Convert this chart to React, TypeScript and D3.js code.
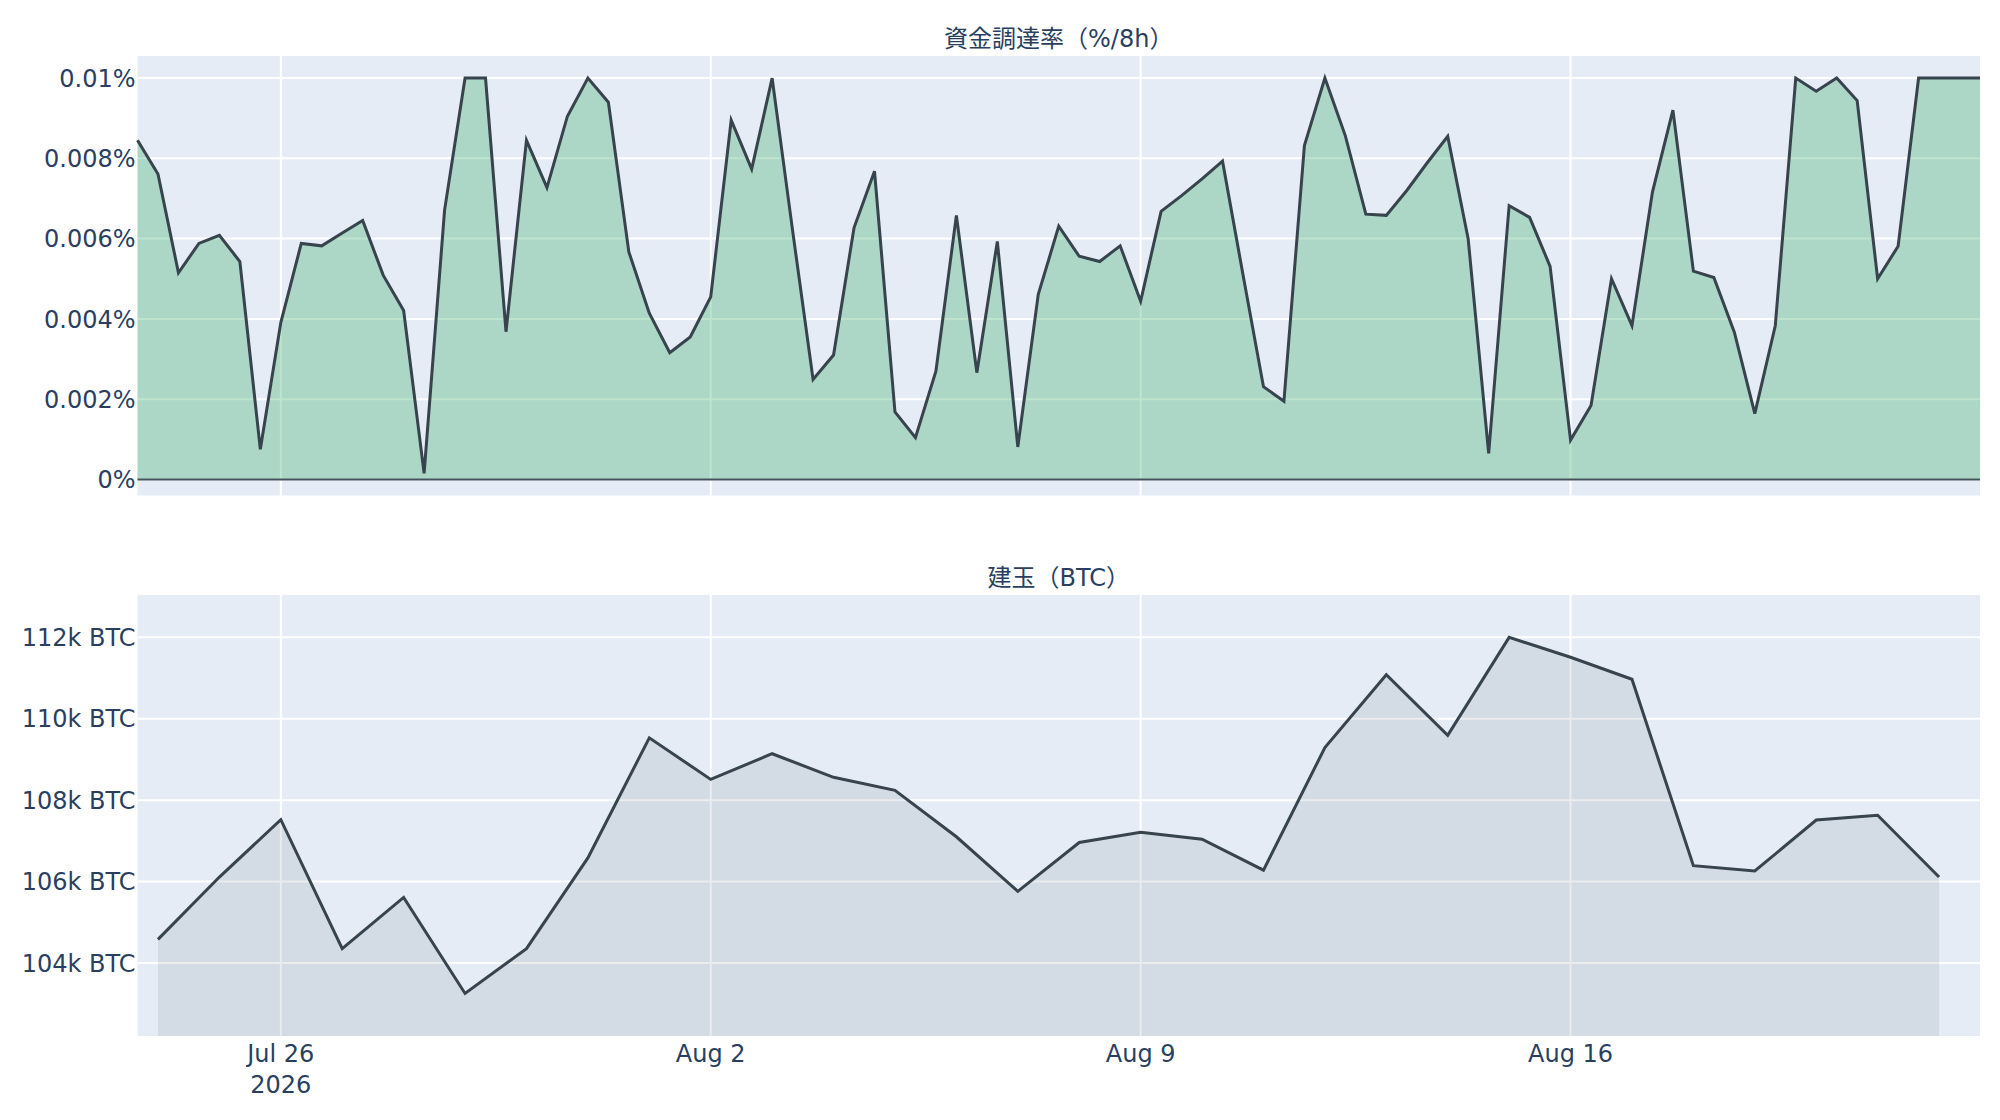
import React from 'react';
import * as d3 from 'd3';

// funding rate, % per 8h, every 8 hours from Jul 23 16:00 UTC
const fundingStart = Date.UTC(2026, 6, 23, 16);
const fundingRates = [
  0.00845, 0.00761, 0.00515, 0.00588, 0.00608, 0.00543, 0.00075, 0.00391, 0.00588, 0.00582,
  0.00614, 0.00645, 0.00509, 0.00421, 0.00015, 0.00671, 0.01, 0.01, 0.00368, 0.00845,
  0.00727, 0.00905, 0.01, 0.0094, 0.00567, 0.00414, 0.00316, 0.00355, 0.00455, 0.00895,
  0.00773, 0.01, 0.0062, 0.00249, 0.0031, 0.00627, 0.00768, 0.00168, 0.00104, 0.0027,
  0.00658, 0.00266, 0.00593, 0.00081, 0.00461, 0.00631, 0.00556, 0.00543, 0.00582, 0.00444,
  0.00668, 0.00707, 0.00749, 0.00793, 0.0051, 0.00231, 0.00195, 0.00832, 0.01, 0.00856,
  0.00661, 0.00658, 0.0072, 0.00789, 0.00855, 0.00599, 0.00065, 0.00682, 0.00653, 0.00531,
  0.00098, 0.00184, 0.005, 0.00383, 0.00716, 0.0092, 0.00519, 0.00503, 0.00367, 0.00164,
  0.00383, 0.01, 0.00967, 0.01, 0.00944, 0.005, 0.00581, 0.01, 0.01, 0.01,
  0.01,
];

// open interest, BTC, daily from Jul 24
const oiStart = Date.UTC(2026, 6, 24);
const openInterest = [
  104580, 106110, 107520, 104350, 105610, 103250, 104350, 106580, 109530, 108510,
  109140, 108560, 108240, 107100, 105760, 106960, 107210, 107040, 106280, 109290,
  111080, 109590, 112000, 111510, 110970, 106390, 106260, 107510, 107630, 106110,
];

const xTickDates = ['2026-07-26', '2026-08-02', '2026-08-09', '2026-08-16'];
const xTickLabels = ['Jul 26', 'Aug 2', 'Aug 9', 'Aug 16'];
const fundingTicks = [0, 0.002, 0.004, 0.006, 0.008, 0.01];
const fundingTickLabels = ['0%', '0.002%', '0.004%', '0.006%', '0.008%', '0.01%'];
const oiTicks = [104000, 106000, 108000, 110000, 112000];
const oiTickLabels = ['104k BTC', '106k BTC', '108k BTC', '110k BTC', '112k BTC'];

const W = 2000;
const H = 1120;
const L = 137.5;
const R = 1980;
const top1 = 56, bot1 = 495.5;
const top2 = 595, bot2 = 1036;

const font = '"DejaVu Sans", Verdana, "Noto Sans CJK JP", sans-serif';
const textColor = '#2a3f5f';
const lineColor = '#37434d';

export default function App() {
  const fundingTimes = fundingRates.map((_, i) => d3.utcHour.offset(new Date(fundingStart), i * 8));
  const oiTimes = openInterest.map((_, i) => d3.utcDay.offset(new Date(oiStart), i));

  const x = d3.scaleUtc()
    .domain([fundingTimes[0], fundingTimes[fundingTimes.length - 1]])
    .range([L, R]);
  const y1 = d3.scaleLinear().domain([-0.0004, 0.01055]).range([bot1, top1]);
  const y2 = d3.scaleLinear().domain([102205, 113040]).range([bot2, top2]);

  const fArea = d3.area<number>()
    .x((_, i) => x(fundingTimes[i]))
    .y0(y1(0))
    .y1(d => y1(d));
  const fLine = d3.line<number>()
    .x((_, i) => x(fundingTimes[i]))
    .y(d => y1(d));
  const oArea = d3.area<number>()
    .x((_, i) => x(oiTimes[i]))
    .y0(bot2)
    .y1(d => y2(d));
  const oLine = d3.line<number>()
    .x((_, i) => x(oiTimes[i]))
    .y(d => y2(d));

  const tickX = xTickDates.map(s => x(new Date(s + 'T00:00:00Z')));
  const cx = (L + R) / 2;

  return (
    <svg width={W} height={H} style={{ position: 'absolute', left: 0, top: 0, background: '#fff' }}
      fontFamily={font}>
      {/* funding rate panel */}
      <rect x={L} y={top1} width={R - L} height={bot1 - top1} fill="#e5ecf6" />
      {fundingTicks.map(t => (
        <line key={t} x1={L} x2={R} y1={y1(t)} y2={y1(t)} stroke="#fff" strokeWidth={2} />
      ))}
      {tickX.map((tx, i) => (
        <line key={i} x1={tx} x2={tx} y1={top1} y2={bot1} stroke="#fff" strokeWidth={2} />
      ))}
      <path d={fArea(fundingRates) || ''} fill="rgba(40,167,90,0.3)" />
      <line x1={L} x2={R} y1={y1(0)} y2={y1(0)} stroke="#44525d" strokeWidth={2} />
      <path d={fLine(fundingRates) || ''} fill="none" stroke={lineColor} strokeWidth={3} />
      {fundingTicks.map((t, i) => (
        <text key={t} x={L - 2} y={y1(t)} dy="0.36em" textAnchor="end" fontSize={24} fill={textColor}>
          {fundingTickLabels[i]}
        </text>
      ))}
      <text x={cx} y={top1 - 9} textAnchor="middle" fontSize={24} fill={textColor}>資金調達率（%/8h）</text>

      {/* open interest panel */}
      <rect x={L} y={top2} width={R - L} height={bot2 - top2} fill="#e5ecf6" />
      {oiTicks.map(t => (
        <line key={t} x1={L} x2={R} y1={y2(t)} y2={y2(t)} stroke="#fff" strokeWidth={2} />
      ))}
      {tickX.map((tx, i) => (
        <line key={i} x1={tx} x2={tx} y1={top2} y2={bot2} stroke="#fff" strokeWidth={2} />
      ))}
      <path d={oArea(openInterest) || ''} fill="rgba(55,67,77,0.1)" />
      <path d={oLine(openInterest) || ''} fill="none" stroke={lineColor} strokeWidth={3} />
      {oiTicks.map((t, i) => (
        <text key={t} x={L - 2} y={y2(t)} dy="0.36em" textAnchor="end" fontSize={24} fill={textColor}>
          {oiTickLabels[i]}
        </text>
      ))}
      <text x={cx} y={top2 - 9} textAnchor="middle" fontSize={24} fill={textColor}>建玉（BTC）</text>

      {/* shared x axis */}
      {tickX.map((tx, i) => (
        <text key={i} x={tx} y={1062} textAnchor="middle" fontSize={24} fill={textColor}>
          {xTickLabels[i]}
        </text>
      ))}
      <text x={tickX[0]} y={1093} textAnchor="middle" fontSize={24} fill={textColor}>2026</text>
    </svg>
  );
}
